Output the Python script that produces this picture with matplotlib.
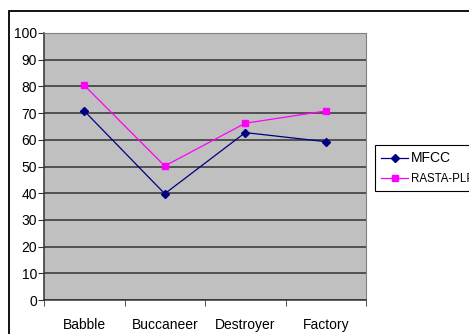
import numpy as np
import matplotlib
matplotlib.use('Agg')
from matplotlib import pyplot as plt
from matplotlib.patches import Rectangle

categories = ['Babble', 'Buccaneer', 'Destroyer', 'Factory']
mfcc = [70.8, 39.8, 62.7, 59.3]
rasta_plp = [80.4, 50.2, 66.2, 70.8]
yticks = [0, 10, 20, 30, 40, 50, 60, 70, 80, 90, 100]

W, H = 469, 334
plt.rcParams['font.family'] = ['Liberation Sans', 'DejaVu Sans']

fig = plt.figure(figsize=(W/100, H/100), dpi=100)

# outer chart frame (runs off the right and bottom edges)
fig.patches.append(Rectangle((9/W, -0.1), 1.2, 1 - 11/H + 0.1, transform=fig.transFigure,
                             fill=False, edgecolor='black', linewidth=1.3))

ax = fig.add_axes([44/W, 1 - 300/H, (366-44)/W, (300-33)/H])
ax.set_facecolor('#c0c0c0')
x = np.arange(len(categories))
ax.plot(x, mfcc, color='#000080', marker='D', markersize=4, linewidth=0.9, label='MFCC')
ax.plot(x, rasta_plp, color='#ff00ff', marker='s', markersize=5, linewidth=0.9, label='RASTA-PLP')

ax.set_xlim(-0.5, len(categories) - 0.5)
ax.set_ylim(0, 100)
ax.set_yticks(yticks)
ax.yaxis.grid(True, color='#333333', linewidth=1.1)
ax.set_axisbelow(True)

ax.set_xticks(x)
ax.set_xticklabels(categories, fontsize=10)
ax.set_xticks(np.arange(-0.5, len(categories)), minor=True)
ax.tick_params(axis='x', which='major', length=0, pad=13)
ax.tick_params(axis='x', which='minor', length=4, direction='out', color='#333333')
ax.tick_params(axis='y', length=4, direction='out', labelsize=10, pad=1, color='#333333')

for s in ['top', 'right']:
    ax.spines[s].set_color('#808080')
for s in ['left', 'bottom']:
    ax.spines[s].set_color('#333333')
    ax.spines[s].set_linewidth(1.1)

leg = fig.legend(loc='upper left', bbox_to_anchor=(375/W, 1 - 145/H), borderaxespad=0,
                 fancybox=False, edgecolor='black', framealpha=1, handlelength=2.4,
                 handletextpad=0.25, borderpad=0.5, labelspacing=0.75, fontsize=8.3)
leg.get_frame().set_linewidth(0.8)
leg.get_texts()[0].set_fontsize(10)

fig.savefig('out.png', dpi=100)
